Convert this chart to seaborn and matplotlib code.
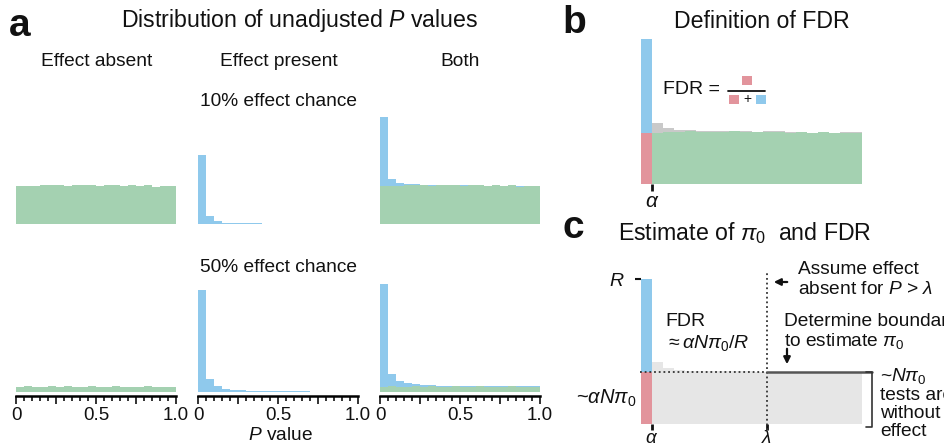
import numpy as np
import pandas as pd
import matplotlib
matplotlib.use("Agg")
from matplotlib import pyplot as plt
from matplotlib.patches import Rectangle
import seaborn as sns

# P value histograms, 20 bins of width 0.05
n_bins = 20
bin_edges = np.linspace(0, 1, n_bins + 1)
bin_centers = (bin_edges[:-1] + bin_edges[1:]) / 2

# 10% effect chance (counts per bin)
null_10 = [440, 438, 442, 448, 452, 446, 444, 446, 452, 446, 444, 446, 448, 440, 446, 436, 446, 434, 440, 440]
effect_10 = [800, 88, 35, 15, 10, 8, 7, 6, 5, 5, 4, 4, 4, 3, 3, 3, 3, 3, 3, 3]
# 50% effect chance
null_50 = [250, 252, 250, 248, 252, 250, 251, 249, 250, 252, 248, 250, 251, 250, 249, 250, 252, 248, 250, 250]
effect_50 = [4650, 590, 270, 140, 90, 70, 55, 45, 40, 35, 30, 28, 26, 24, 22, 20, 20, 18, 18, 16]

alpha_cut = 0.05
lambda_cut = 0.57
pi0_level = 445   # estimated N*pi0 per bin

GREEN = "#a4d1b1"
BLUE = "#8fc9ec"
RED = "#e2949c"
GRAY_B = "#c9c9c9"
GRAY_C = "#e6e6e6"

sns.set_style("white")
plt.rcParams["font.family"] = ["Liberation Sans", "DejaVu Sans"]
plt.rcParams["mathtext.fontset"] = "custom"
plt.rcParams["mathtext.rm"] = "Liberation Sans"
plt.rcParams["mathtext.it"] = "Liberation Sans:italic"
plt.rcParams["mathtext.bf"] = "Liberation Sans:bold"

W, H = 944, 446
fig = plt.figure(figsize=(W / 100, H / 100), dpi=100)


def px_axes(x0, y0, x1, y1):
    return fig.add_axes([x0 / W, 1 - y1 / H, (x1 - x0) / W, (y1 - y0) / H])


def stacked_hist(ax, layers):
    # layers listed bottom -> top
    rows = []
    for name, counts, color in layers:
        for c, n in zip(bin_centers, counts):
            rows.append({"p": c, "n": n, "layer": name})
    df = pd.DataFrame(rows)
    order = [l[0] for l in layers][::-1]  # seaborn stacks the last level at the bottom
    pal = {l[0]: l[2] for l in layers}
    sns.histplot(data=df, x="p", weights="n", hue="layer", hue_order=order,
                 multiple="stack", bins=n_bins, binrange=(0, 1), element="step", fill=True,
                 alpha=1, linewidth=0, edgecolor="none", palette=pal, legend=False, ax=ax)
    ax.set_xlim(0, 1)
    ax.set_xlabel("")
    ax.set_ylabel("")
    ax.set_yticks([])
    for s in ax.spines.values():
        s.set_visible(False)


first_only = lambda arr: [arr[0]] + [0] * (n_bins - 1)
rest_only = lambda arr: [0] + list(arr[1:])

# ---- panel a ----
col_x = [(16, 176), (198, 358), (380, 540)]
rows_cfg = [
    (110, 224, 1320, null_10, effect_10),
    (280, 392, 5100, null_50, effect_50),
]
for r, (top, bot, ymax, nul, eff) in enumerate(rows_cfg):
    for c, (x0, x1) in enumerate(col_x):
        ax = px_axes(x0, top, x1, bot)
        if c == 0:
            layers = [("null", nul, GREEN)]
        elif c == 1:
            layers = [("effect", eff, BLUE)]
        else:
            layers = [("null", nul, GREEN), ("effect", eff, BLUE)]
        stacked_hist(ax, layers)
        ax.set_ylim(0, ymax)
        if r == 0:
            ax.set_xticks([])
        else:
            ax.spines["bottom"].set_visible(True)
            ax.spines["bottom"].set_color("black")
            ax.spines["bottom"].set_linewidth(1.8)
            ax.spines["bottom"].set_position(("outward", 3))
            ax.set_xticks([0, 0.25, 0.5, 0.75, 1.0])
            ax.set_xticklabels(["0", "", "0.5", "", "1.0"])
            ax.set_xticks(bin_edges, minor=True)
            ax.tick_params(axis="x", which="major", direction="out", length=6, width=1.2,
                           labelsize=13.5, pad=2, bottom=True, colors="#111111")
            ax.tick_params(axis="x", which="minor", direction="out", length=3.5, width=1.2,
                           bottom=True, colors="#111111")

# ---- panel b ----
axb = px_axes(641, 30, 862, 184)
stacked_hist(axb, [
    ("fp", first_only(null_10), RED),
    ("tn", rest_only(null_10), GREEN),
    ("tp", first_only(effect_10), BLUE),
    ("fn", rest_only(effect_10), GRAY_B),
])
axb.set_ylim(0, 1318)
axb.set_xticks([alpha_cut])
axb.set_xticklabels([r"$\alpha$"])
axb.tick_params(axis="x", direction="out", length=5, width=2, labelsize=15, pad=1,
                bottom=True, colors="#111111")

# ---- panel c ----
axc = px_axes(641, 270, 862, 424)
R = null_10[0] + effect_10[0]
stacked_hist(axc, [
    ("fp", first_only([pi0_level] * n_bins), RED),
    ("tp", first_only([R - pi0_level] * n_bins), BLUE),
    ("rest", rest_only([pi0_level + e for e in effect_10]), GRAY_C),
])
axc.set_ylim(0, 1318)
axc.set_xticks([alpha_cut, lambda_cut])
axc.set_xticklabels([r"$\alpha$", r"$\lambda$"])
axc.tick_params(axis="x", direction="out", length=4, width=2, labelsize=13.5, pad=0,
                bottom=True, colors="#111111")
axc.set_yticks([R])
axc.set_yticklabels([r"$R$"])
axc.tick_params(axis="y", direction="out", length=4, width=1.5, labelsize=14, pad=8,
                left=True, colors="#111111")
dots = (0, (1, 1.6))
axc.plot([lambda_cut, lambda_cut], [-50, 1290], color="#333333", lw=1.3, ls=dots, clip_on=False)
axc.plot([-0.005, lambda_cut], [pi0_level, pi0_level], color="#333333", lw=1.3, ls=dots, clip_on=False)
axc.plot([lambda_cut, 1.045], [pi0_level, pi0_level], color="#555555", lw=1.8, clip_on=False)

# ---- overlay with text, in pixel coordinates ----
ov = fig.add_axes([0, 0, 1, 1])
ov.set_xlim(0, W)
ov.set_ylim(H, 0)
ov.axis("off")
ov.patch.set_alpha(0)


def T(x, y, s, size=13.8, ha="center", va="center", **kw):
    ov.text(x, y, s, fontsize=size, ha=ha, va=va, color="#111111", **kw)


T(9, 36, "a", size=28, ha="left", va="baseline", fontweight="bold")
T(562, 33, "b", size=28, ha="left", va="baseline", fontweight="bold")
T(563, 238, "c", size=28, ha="left", va="baseline", fontweight="bold")

T(300, 20, r"Distribution of unadjusted $P$ values", size=16.7)
T(97, 62, "Effect absent")
T(279, 62, "Effect present")
T(460, 62, "Both")
T(279, 102, "10% effect chance")
T(279, 267, "50% effect chance")
T(280, 435, r"$P$ value")

T(762, 22, "Definition of FDR", size=16.7)
T(663, 89, "FDR =", size=14, ha="left")
for (x0, y0, col) in [(742, 76, RED), (729, 95, RED), (756, 95, BLUE)]:
    ov.add_patch(Rectangle((x0, y0), 9.5, 9, color=col, lw=0))
ov.plot([728, 765], [90.5, 90.5], color="#111111", lw=1.3)
T(747.5, 99.5, "+", size=10)

T(745, 233, r"Estimate of $\pi_0$  and FDR", size=16.7)
T(665, 321, "FDR", size=14, ha="left")
T(665, 343, r"$\approx\alpha N\pi_0/R$", size=14, ha="left")
T(636, 398, r"~$\alpha N\pi_0$", size=14.5, ha="right")

ov.annotate("", xy=(771, 282), xytext=(790, 282),
            arrowprops=dict(arrowstyle="-|>", color="#111111", lw=1.6, mutation_scale=10))
T(798, 270, "Assume effect", ha="left")
T(798, 289, r"absent for $P$ > $\lambda$", ha="left")
T(784, 321, "Determine boundary", ha="left")
T(784, 341, r"to estimate $\pi_0$", ha="left")
ov.annotate("", xy=(787, 367), xytext=(787, 346),
            arrowprops=dict(arrowstyle="-|>", color="#111111", lw=1.6, mutation_scale=10))

ov.plot([866, 872, 872, 866], [372, 372, 427, 427], color="#333333", lw=1.2)
T(880, 376, r"~$N\pi_0$", ha="left")
T(880, 395, "tests are", ha="left")
T(880, 414, "without", ha="left")
T(880, 432, "effect", ha="left")

fig.savefig("out.png", dpi=100)
